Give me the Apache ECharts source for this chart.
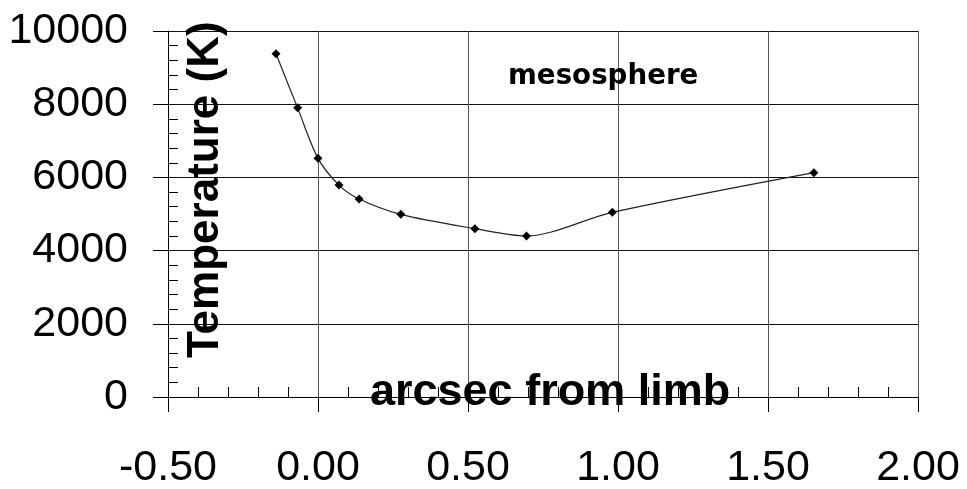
<!DOCTYPE html>
<html>
<head>
<meta charset="utf-8">
<script src="https://cdn.jsdelivr.net/npm/echarts@6/dist/echarts.min.js"></script>
<style>
html,body{margin:0;padding:0;background:#fff;}
#chart{width:967px;height:489px;}
</style>
</head>
<body>
<div id="chart"></div>
<script>
// Data
const arcsec = [-0.14, -0.068, 0.0, 0.07, 0.137, 0.276, 0.523, 0.695, 0.981, 1.653];
const temperature = [9380, 7900, 6520, 5790, 5410, 4990, 4600, 4400, 5045, 6130];
const xTicks = { min: -0.5, max: 2.0, step: 0.5 };
const yTicks = { min: 0, max: 10000, step: 2000 };
const xTitle = 'arcsec from limb';
const yTitle = 'Temperature (K)';
const note = 'mesosphere';

const points = arcsec.map((x, i) => [x, temperature[i]]);
const chart = echarts.init(document.getElementById('chart'));
const numFont = '"Liberation Sans", Arial, sans-serif';

chart.setOption({
  animation: false,
  backgroundColor: '#fff',
  grid: { left: 168, right: 49, top: 31, bottom: 92, containLabel: false, outerBoundsMode: 'none' },
  xAxis: [
    {
      type: 'value', min: xTicks.min, max: xTicks.max, interval: xTicks.step,
      position: 'bottom',
      axisLine: { show: true, onZero: false, lineStyle: { color: '#000', width: 1 } },
      axisTick: { show: true, length: 15, inside: false, lineStyle: { color: '#000' } },
      minorTick: { show: false },
      splitLine: { show: true, showMinLine: true, showMaxLine: true, lineStyle: { color: '#555', width: 1 } },
      axisLabel: {
        show: true, margin: 50, color: '#000', fontSize: 43, fontFamily: numFont,
        formatter: v => v.toFixed(2)
      }
    },
    {
      type: 'value', min: xTicks.min, max: xTicks.max, interval: xTicks.step,
      position: 'bottom', offset: 0,
      axisLine: { show: false, onZero: false },
      axisTick: { show: false, inside: true },
      minorTick: { show: true, splitNumber: 5, length: 10, lineStyle: { color: '#000', width: 1 } },
      splitLine: { show: false },
      axisLabel: { show: false }
    }
  ],
  yAxis: [
    {
      type: 'value', min: yTicks.min, max: yTicks.max, interval: yTicks.step,
      position: 'left',
      axisLine: { show: true, onZero: false, lineStyle: { color: '#000', width: 1 } },
      axisTick: { show: true, length: 15, inside: false, lineStyle: { color: '#000' } },
      minorTick: { show: false },
      splitLine: { show: true, showMinLine: true, showMaxLine: true, lineStyle: { color: '#111', width: 1 } },
      axisLabel: { show: true, margin: 40, color: '#000', fontSize: 43, fontFamily: numFont, formatter: v => String(v) }
    },
    {
      type: 'value', min: yTicks.min, max: yTicks.max, interval: yTicks.step,
      position: 'left', offset: 0,
      axisLine: { show: false, onZero: false },
      axisTick: { show: false, inside: true },
      minorTick: { show: true, splitNumber: 5, length: 10, lineStyle: { color: '#000', width: 1 } },
      splitLine: { show: false },
      axisLabel: { show: false }
    }
  ],
  series: [{
    type: 'line',
    xAxisIndex: 0, yAxisIndex: 0,
    data: points,
    smooth: 0.3,
    symbol: 'diamond',
    symbolSize: 9,
    itemStyle: { color: '#000' },
    lineStyle: { color: '#222', width: 1.2 },
    z: 5
  }],
  graphic: [
    {
      type: 'text', left: 370, top: 370, z: 10,
      style: { text: xTitle, fill: '#000', font: 'bold 45px "Liberation Sans", Arial, sans-serif' }
    },
    {
      type: 'text', x: 228, y: 358, rotation: Math.PI / 2, z: 10,
      style: { text: yTitle, fill: '#000', font: 'bold 44px "Liberation Sans", Arial, sans-serif', textAlign: 'left', textVerticalAlign: 'bottom' }
    },
    {
      type: 'text', left: 508, top: 63, z: 10,
      style: { text: note, fill: '#000', font: 'bold 27.7px "DejaVu Sans", sans-serif' }
    }
  ]
});
</script>
</body>
</html>
